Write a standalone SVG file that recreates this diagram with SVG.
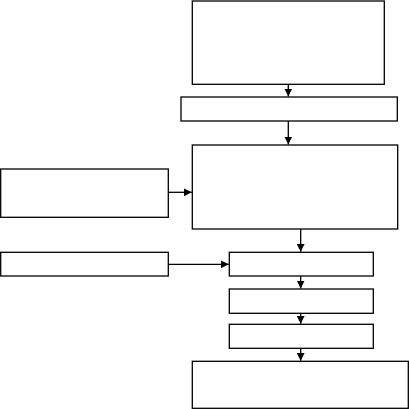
<svg xmlns="http://www.w3.org/2000/svg" width="409" height="409" viewBox="0 0 409 409">
<style>
.box{fill:#fff;stroke:#000;stroke-width:1.3}
.con{stroke:#000;stroke-width:1.3;fill:none}
</style>
<defs>
<marker id="ah" viewBox="0 0 10 10" refX="10" refY="5" markerWidth="8" markerHeight="8" markerUnits="userSpaceOnUse" orient="auto">
<path d="M0,0 L10,5 L0,10 Z" fill="#000"/>
</marker>
</defs>
<g id="n1"><rect class="box" x="192.3" y="1" width="192" height="83.3"/></g>
<g id="n2"><rect class="box" x="181" y="97" width="216.3" height="24"/></g>
<g id="n3"><rect class="box" x="192.3" y="145" width="205.4" height="84"/></g>
<g id="n4"><rect class="box" x="0.7" y="169" width="167.6" height="48.3"/></g>
<g id="n5"><rect class="box" x="0.7" y="252.3" width="167.6" height="23.7"/></g>
<g id="n6"><rect class="box" x="229.3" y="252.3" width="144" height="23.7"/></g>
<g id="n7"><rect class="box" x="229.3" y="289" width="144" height="24.3"/></g>
<g id="n8"><rect class="box" x="229.3" y="324.3" width="144" height="24"/></g>
<g id="n9"><rect class="box" x="192.3" y="361.3" width="216" height="47"/></g>
<g id="connectors">
<line class="con" x1="288.3" y1="84.3" x2="288.3" y2="96.5" marker-end="url(#ah)"/>
<line class="con" x1="288.3" y1="121" x2="288.3" y2="144.5" marker-end="url(#ah)"/>
<line class="con" x1="168.3" y1="192.3" x2="191.8" y2="192.3" marker-end="url(#ah)"/>
<line class="con" x1="300.7" y1="229" x2="300.7" y2="251.8" marker-end="url(#ah)"/>
<line class="con" x1="168.3" y1="264.3" x2="228.8" y2="264.3" marker-end="url(#ah)"/>
<line class="con" x1="300.7" y1="276" x2="300.7" y2="288.5" marker-end="url(#ah)"/>
<line class="con" x1="300.7" y1="313.3" x2="300.7" y2="323.8" marker-end="url(#ah)"/>
<line class="con" x1="300.7" y1="348.3" x2="300.7" y2="360.8" marker-end="url(#ah)"/>
</g>
</svg>
